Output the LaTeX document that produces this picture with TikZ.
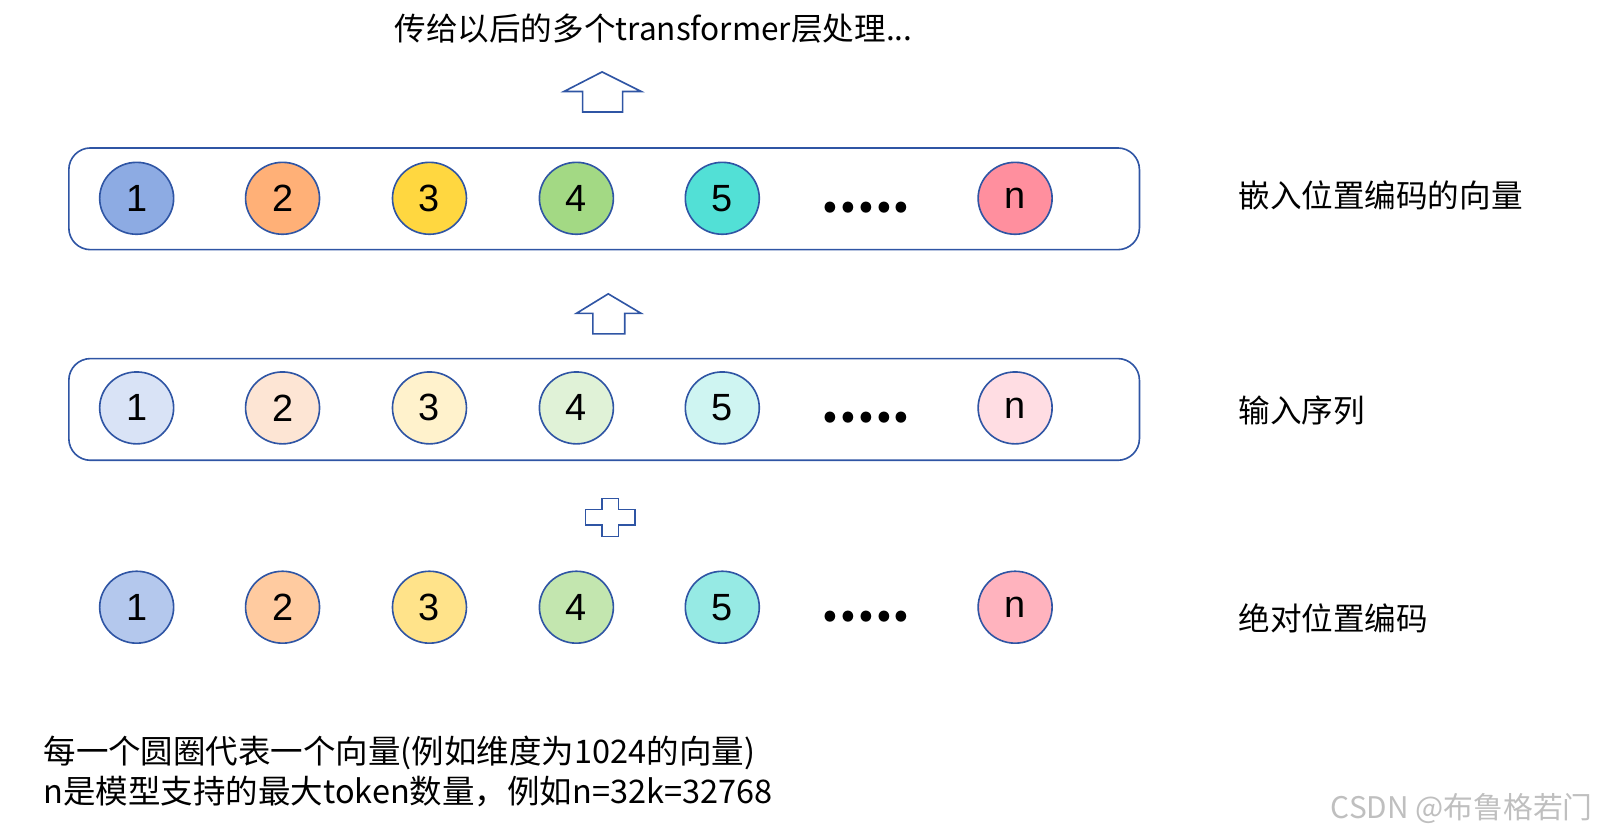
\documentclass[tikz,border=0pt]{standalone}
\usepackage{fontspec}
\setmainfont{Noto Sans CJK SC}
\newfontfamily\numfont{Liberation Sans}
\begin{document}
\begin{tikzpicture}[x=0.02cm,y=-0.02cm,
  lab/.style={font=\fontsize{17.5}{20}\selectfont, anchor=west, inner sep=0pt},
  dots/.style={font=\fontsize{28}{28}\selectfont\bfseries}]
\definecolor{bd}{HTML}{2F55A4}
\tikzset{bl/.style={draw=bd, line width=0.9pt}}
\useasboundingbox (0,0) rectangle (1567,814);
% boxes
\draw[bl, rounded corners=12] (67,144) rectangle (1109,243);
\draw[bl, rounded corners=12] (67,349) rectangle (1109,448);
\newcommand{\row}[7]{%
  \foreach \x/\t/\c [count=\i] in {133/1/#2,275/2/#3,418/3/#4,561/4/#5,703/5/#6,988/n/#7}{
    \filldraw[bl, fill=\c] (\x,#1) ellipse [x radius=36, y radius=35];
    \node[font=\numfont\fontsize{21}{21}\selectfont] (#1n\i) at (\x,#1) {\t};
  }
  \node[dots, inner sep=0pt, anchor=base] (#1d) at (843,#1+14) {.....};
}
\definecolor{a1}{HTML}{8DABE3}\definecolor{a2}{HTML}{FFB077}\definecolor{a3}{HTML}{FFD740}
\definecolor{a4}{HTML}{A3D984}\definecolor{a5}{HTML}{52E0D6}\definecolor{a6}{HTML}{FF8F9E}
\definecolor{b1}{HTML}{D9E3F6}\definecolor{b2}{HTML}{FDE5D4}\definecolor{b3}{HTML}{FFF2CC}
\definecolor{b4}{HTML}{E0F2D7}\definecolor{b5}{HTML}{CFF5F2}\definecolor{b6}{HTML}{FFDDE3}
\definecolor{c1}{HTML}{B4C8ED}\definecolor{c2}{HTML}{FFCBA0}\definecolor{c3}{HTML}{FFE38A}
\definecolor{c4}{HTML}{C3E6AF}\definecolor{c5}{HTML}{96EAE4}\definecolor{c6}{HTML}{FFB3BE}
\row{193}{a1}{a2}{a3}{a4}{a5}{a6}
\row{397}{b1}{b2}{b3}{b4}{b5}{b6}
\row{591}{c1}{c2}{c3}{c4}{c5}{c6}
% arrows
\draw[bl] (586,70) -- (624,89) -- (606,89) -- (606,109) -- (567,109) -- (567,89) -- (549,89) -- cycle;
\draw[bl] (592,286) -- (624,305) -- (608,305) -- (608,325) -- (577,325) -- (577,305) -- (561,305) -- cycle;
\draw[bl] (586,485) -- (602,485) -- (602,496) -- (618,496) -- (618,511) -- (602,511) -- (602,522) -- (586,522) -- (586,511) -- (570,511) -- (570,496) -- (586,496) -- cycle;
% labels
\node[font=\fontsize{17.5}{20}\selectfont] (top) at (636,28) {传给以后的多个transformer层处理...};
\node[lab] (l1) at (1205,190) {嵌入位置编码的向量};
\node[lab] (l2) at (1205,400) {输入序列};
\node[lab] (l3) at (1205,602) {绝对位置编码};
\node[font=\fontsize{18}{22}\selectfont, anchor=north west, align=left, inner sep=0pt] (note) at (42,716) {每一个圆圈代表一个向量(例如维度为1024的向量)\\n是模型支持的最大token数量，例如n=32k=32768};
\node[font=\fontsize{16.5}{18}\selectfont, text=black!25, anchor=west, inner sep=0pt] (wm) at (1295,787) {CSDN @布鲁格若门};
\end{tikzpicture}
\end{document}
